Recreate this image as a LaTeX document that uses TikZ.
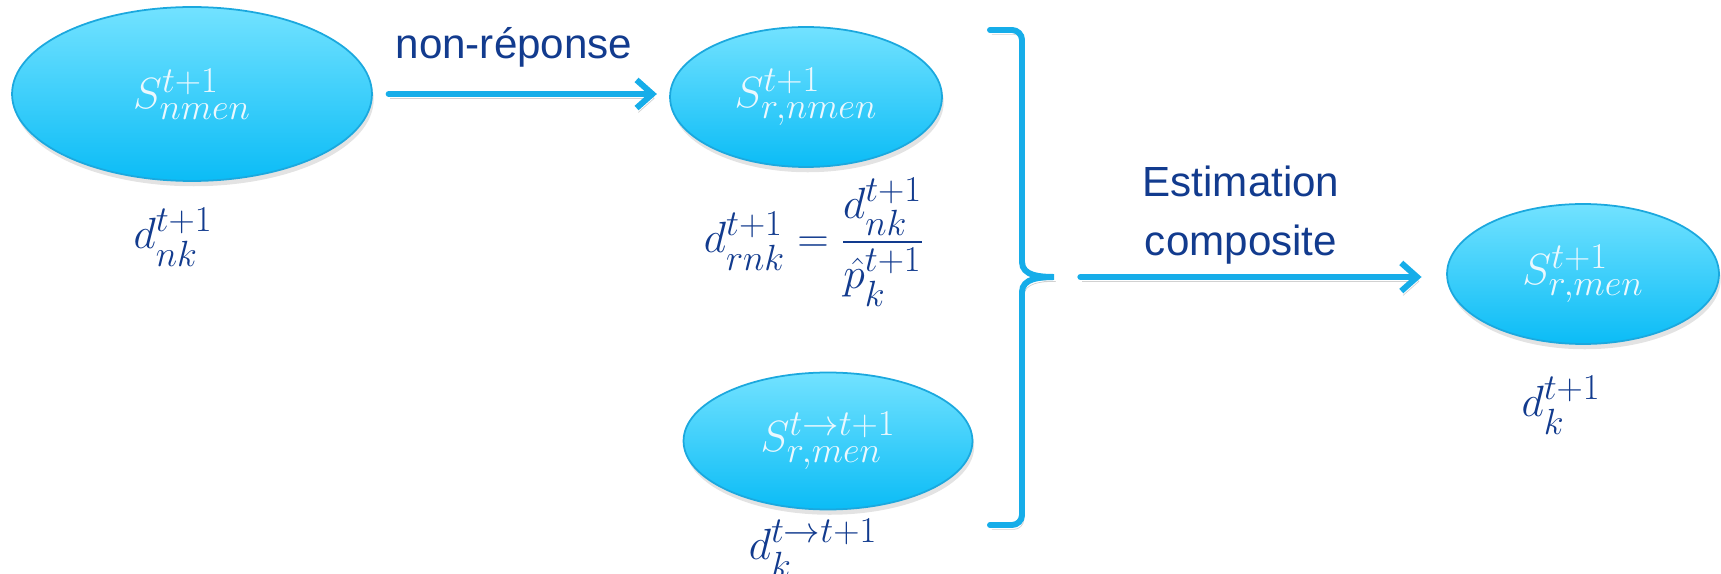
\documentclass[tikz,border=0pt]{standalone}
\usepackage{amsmath}
\usepackage[no-math]{fontspec}
\setmainfont{Liberation Sans}
\usetikzlibrary{shapes.geometric,arrows.meta,shadows}

\definecolor{cellhi}{HTML}{72E2FF}
\definecolor{celllo}{HTML}{0BBCF6}
\definecolor{cellrim}{HTML}{1BA8DE}
\definecolor{flowblue}{HTML}{16ADE9}
\definecolor{ink}{HTML}{123B8E}

\begin{document}
\begin{tikzpicture}[x=0.02cm,y=-0.02cm,
    sample/.style={ellipse,draw=cellrim,line width=1pt,top color=cellhi,bottom color=celllo,
      text=white!92!cyan,inner sep=0pt,font=\fontsize{24.88}{30}\selectfont,
      drop shadow={opacity=0.22,shadow xshift=1pt,shadow yshift=-3pt}},
    weight/.style={text=ink,font=\fontsize{24.88}{30}\selectfont},
    word/.style={text=ink,font=\fontsize{24}{34}\selectfont,align=center},
    flow/.style={draw=flowblue,line width=3.4pt,line cap=round,
      -{Straight Barb[length=9pt,width=16pt]},
      preaction={draw=black!18,transform canvas={shift={(1pt,-2.5pt)}}}},
    brace/.style={draw=flowblue,line width=3.4pt,line cap=round,
      preaction={draw=black!18,transform canvas={shift={(1pt,-2.5pt)}}}}]
  \useasboundingbox (0,0) rectangle (1721,574);

  \node[sample,minimum width=7.2cm,minimum height=3.48cm] (nmen) at (192,94) {$S_{nmen}^{t+1}$};
  \node[sample,minimum width=5.44cm,minimum height=2.8cm] (rnmen) at (806,97) {$S_{r,nmen}^{t+1}$};
  \node[sample,minimum width=5.78cm,minimum height=2.74cm] (rold) at (828,441) {$S_{r,men}^{t\rightarrow t+1}$};
  \node[sample,minimum width=5.44cm,minimum height=2.8cm] (rmen) at (1583,274) {$S_{r,men}^{t+1}$};

  \node[weight] (dnk) at (173,237) {$d_{nk}^{t+1}$};
  \node[weight] (drnk) at (814,242) {$d_{rnk}^{t+1}=\dfrac{d_{nk}^{t+1}}{\hat{p}_k^{t+1}}$};
  \node[weight] (dold) at (813,548) {$d_k^{t\rightarrow t+1}$};
  \node[weight] (dk) at (1561,405) {$d_k^{t+1}$};

  \node[word] (nonrep) at (514,47) {non-réponse};
  \node[word] (estim) at (1241,215) {Estimation\\composite};

  % accolade
  \coordinate (tip) at (1054,277);
  \draw[brace] (990,30) -- (1012,30) to[out=0,in=90] (1022,40) -- (1022,262)
    to[out=-90,in=180] (tip) to[out=180,in=90] (1022,292) -- (1022,515)
    to[out=-90,in=0] (1012,525) -- (990,525);

  \draw[flow,shorten <=9pt,shorten >=7pt] (nmen.east) -- (nmen.east -| rnmen.west);
  \draw[flow,shorten <=15pt,shorten >=14pt] (tip) -- (tip -| rmen.west);
\end{tikzpicture}
\end{document}
